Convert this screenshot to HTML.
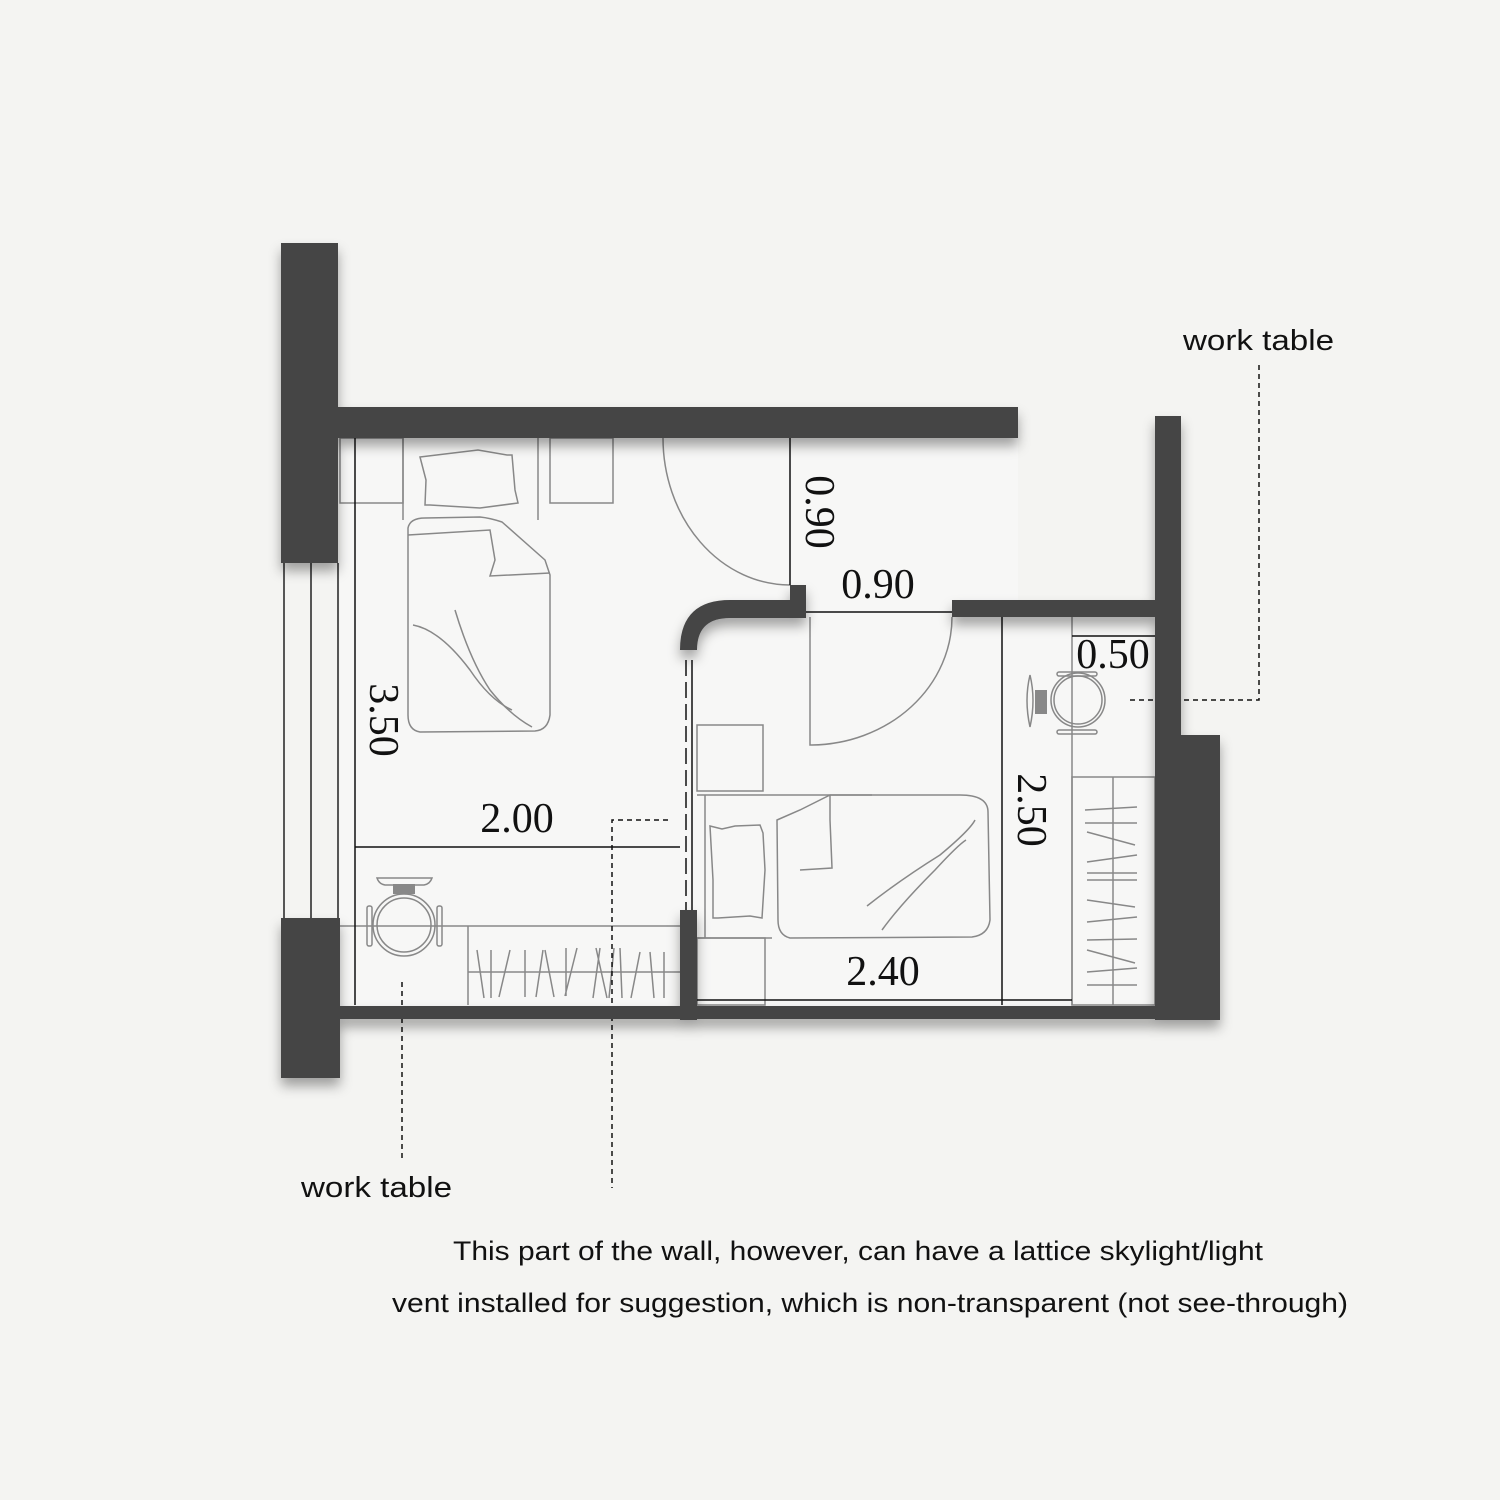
<!DOCTYPE html>
<html><head><style>
html,body{margin:0;padding:0;background:#f4f4f2;}
svg{display:block}
</style></head><body>
<svg width="1500" height="1500" viewBox="0 0 1500 1500" xmlns="http://www.w3.org/2000/svg">
<defs>
<filter id="sh" x="-20%" y="-20%" width="140%" height="160%">
<feDropShadow dx="0" dy="8" stdDeviation="6" flood-color="#000" flood-opacity="0.35"/>
</filter>
</defs>
<rect width="1500" height="1500" fill="#f4f4f2"/>
<path d="M340 438 L1018 438 L1018 617 L1155 617 L1155 1008 L340 1008 Z" fill="#f7f7f6"/>

<!-- thin lines -->
<g fill="none" stroke="#888" stroke-width="1.5">
  <line x1="284" y1="563" x2="284" y2="918" stroke="#222"/>
  <line x1="311" y1="563" x2="311" y2="918" stroke="#222"/>
  <line x1="338" y1="563" x2="338" y2="918" stroke="#222"/>
  <rect x="340" y="438" width="63" height="65"/>
  <rect x="550" y="438" width="63" height="65"/>
  <line x1="403" y1="438" x2="403" y2="520"/>
  <line x1="538" y1="438" x2="538" y2="520"/>
  <path d="M420 457 L478 450 L507 455 L512 455 L515 490 L518 503 L480 508 L430 505 L425 505 L426 480 Z"/>
  <path d="M408 528 Q410 518 425 518 L480 517 Q490 518 502 522 L545 560 L550 575 L550 715 Q548 730 535 731 L420 732 Q408 730 408 715 Z"/>
  <path d="M408 535 L490 530 L495 560 L490 576 L550 573"/>
  <path d="M413 625 Q440 630 470 670 Q490 700 512 710"/>
  <path d="M455 610 Q470 660 490 690 Q510 715 532 727"/>
  <path d="M663 438 A127 147 0 0 0 790 585"/>
  <line x1="340" y1="926" x2="680" y2="926"/>
  <line x1="468" y1="926" x2="468" y2="1005"/>
  <line x1="468" y1="972" x2="680" y2="972"/>
  <path d="M477 950 L484 998 M491 950 L491 998 M510 950 L499 997 M525 950 L525 997 M543 950 L536 997 M545 950 L554 997 M566 948 L566 996 M577 948 L565 996 M600 948 L593 998 M596 948 L607 998 M614 948 L609 998 M620 948 L622 998 M640 952 L631 998 M650 952 L654 998 M664 952 L664 998"/>
  <circle cx="404" cy="925" r="31"/><circle cx="404" cy="925" r="27"/>
  <path d="M377 878 L432 878 Q430 884 424 885 L385 885 Q379 884 377 878 Z"/>
  <rect x="367" y="906" width="5" height="40" rx="2"/>
  <rect x="437" y="906" width="5" height="40" rx="2"/>
  <rect x="393" y="884" width="22" height="10" fill="#888" stroke="none"/>
  <rect x="697" y="725" width="66" height="66"/>
  <rect x="697" y="938" width="68" height="67"/>
  <line x1="697" y1="795" x2="872" y2="795"/>
  <line x1="705" y1="795" x2="705" y2="938"/>
  <line x1="697" y1="938" x2="772" y2="938"/>
  <path d="M710 826 L722 829 L735 826 L760 825 L763 833 L765 870 L762 918 L750 916 L718 918 L713 918 L713 880 L710 826 Z"/>
  <path d="M777 820 L800 810 L830 795 L960 795 Q988 795 988 812 L990 920 Q988 935 972 937 L790 938 Q778 935 778 920 Z"/>
  <path d="M830 795 L830 820 L832 868 L800 870"/>
  <path d="M867 906 Q900 880 940 855 Q970 830 975 820"/>
  <path d="M882 930 Q900 905 935 870 Q958 845 966 840"/>
  <path d="M810 617 L810 745 L812 745 A142 128 0 0 0 952 617"/>
  <line x1="1072" y1="617" x2="1072" y2="1005"/>
  <rect x="1072" y="777" width="83" height="228"/>
  <line x1="1113" y1="777" x2="1113" y2="1005"/>
  <path d="M1085 810 L1137 807 M1085 823 L1137 823 M1087 832 L1135 845 M1087 862 L1137 855 M1087 873 L1137 873 M1087 880 L1137 880 M1087 900 L1135 907 M1087 922 L1137 917 M1087 940 L1137 939 M1087 950 L1135 963 M1087 972 L1137 968 M1087 985 L1137 985"/>
  <circle cx="1078" cy="700" r="27"/><circle cx="1078" cy="700" r="24"/>
  <path d="M1030 675 Q1036 700 1030 727 Q1024 700 1030 675 Z"/>
  <rect x="1057" y="672" width="40" height="4" rx="2"/>
  <rect x="1057" y="730" width="40" height="4" rx="2"/>
  <rect x="1035" y="690" width="12" height="24" fill="#888" stroke="none"/>
</g>

<g stroke="#111" stroke-width="1.5" fill="none">
  <line x1="355" y1="438" x2="355" y2="1005"/>
  <line x1="355" y1="847" x2="680" y2="847"/>
  <line x1="790" y1="438" x2="790" y2="585"/>
  <line x1="806" y1="612" x2="952" y2="612"/>
  <line x1="1072" y1="636" x2="1155" y2="636"/>
  <line x1="1002" y1="617" x2="1002" y2="1005"/>
  <line x1="697" y1="1000" x2="1072" y2="1000"/>
  <line x1="686" y1="660" x2="686" y2="910" stroke-dasharray="16 6"/>
  <line x1="692" y1="660" x2="692" y2="910"/>
</g>

<g stroke="#111" stroke-width="1.5" fill="none" stroke-dasharray="5 4">
  <path d="M1259 365 L1259 700 L1130 700"/>
  <path d="M402 982 L402 1160"/>
  <path d="M668 820 L612 820 L612 1188"/>
</g>

<g fill="#444" filter="url(#sh)">
  <rect x="281" y="243" width="57" height="320"/>
  <rect x="338" y="407" width="680" height="31"/>
  <rect x="281" y="918" width="59" height="160"/>
  <rect x="338" y="1006" width="882" height="13"/>
  <rect x="1155" y="416" width="26" height="604"/>
  <rect x="1181" y="735" width="39" height="285"/>
  <rect x="952" y="600" width="203" height="17"/>
  <rect x="680" y="910" width="17" height="110"/>
  <path d="M680 650 Q680 600 730 600 L790 600 L790 585 L806 585 L806 618 L730 618 Q697 618 697 650 Z"/>
</g>

<g font-family="Liberation Serif, serif" font-size="42" fill="#111">
  <text x="517" y="832" text-anchor="middle">2.00</text>
  <text x="878" y="598" text-anchor="middle">0.90</text>
  <text x="1113" y="668" text-anchor="middle">0.50</text>
  <text x="883" y="985" text-anchor="middle">2.40</text>
  <text transform="translate(370,720) rotate(90)" text-anchor="middle">3.50</text>
  <text transform="translate(806,512) rotate(90)" text-anchor="middle">0.90</text>
  <text transform="translate(1018,810) rotate(90)" text-anchor="middle">2.50</text>
</g>

<g font-family="Liberation Sans, sans-serif" fill="#111">
  <text x="1183" y="350" font-size="29" textLength="151" lengthAdjust="spacingAndGlyphs">work table</text>
  <text x="301" y="1197" font-size="29" textLength="151" lengthAdjust="spacingAndGlyphs">work table</text>
  <text x="453" y="1260" font-size="27" textLength="810" lengthAdjust="spacingAndGlyphs">This part of the wall, however, can have a lattice skylight/light</text>
  <text x="392" y="1312" font-size="27" textLength="956" lengthAdjust="spacingAndGlyphs">vent installed for suggestion, which is non-transparent (not see-through)</text>
</g>
</svg>
</body></html>
